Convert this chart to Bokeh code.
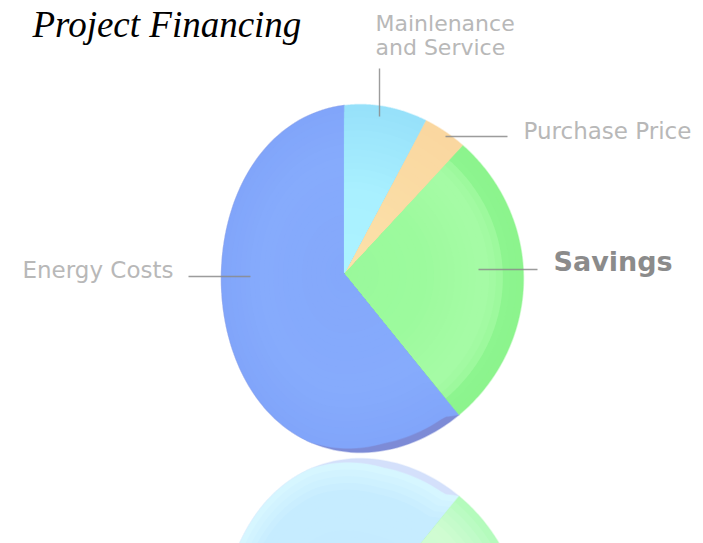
import numpy as np
from bokeh.plotting import figure
from bokeh.core.properties import value
from bokeh.embed import file_html
from bokeh.resources import INLINE

# data: share of the pie, clockwise from 12 o'clock
categories = ["Maintenance and Service", "Purchase Price", "Savings", "Energy Costs"]
shares = [7.8, 4.1, 27.3, 60.8]

title_text = "Project Financing"
label_rows = [
    ["Mainlenance", "and Service"],
    ["Purchase Price"],
    ["Savings"],
    ["Energy Costs"],
]

APEX = (344.0, 272.0)
CX, CY, RX, RY, BEND = 372.0, 278.0, 151.0, 174.0, 12.0
MIRROR = 455.0

# the pie's egg-shaped outline, expressed as distance from the apex per clockwise angle
_u = np.linspace(0, 2 * np.pi, 2000)
_rx = CX + RX * np.sin(_u) - BEND * np.cos(_u) ** 2 - APEX[0]
_ry = CY - RY * np.cos(_u) - APEX[1]
_th = np.degrees(np.arctan2(_rx, -_ry)) % 360
_order = np.argsort(_th)
_th, _r = _th[_order], np.hypot(_rx, _ry)[_order]

def sector(a0, a1, scale=1.0, mirror=False):
    th = np.linspace(a0, a1, 120)
    s = scale(th) if callable(scale) else scale
    r = np.interp(th % 360, _th, _r)
    t = np.radians(th)
    xs = np.r_[APEX[0], APEX[0] + r * s * np.sin(t)]
    ys = np.r_[APEX[1], APEX[1] - r * s * np.cos(t)]
    if mirror:
        ys = 2 * MIRROR - ys
    return xs.tolist(), ys.tolist()

edges = np.r_[0, np.cumsum(shares)] * 3.6
m0, m1 = edges[0], edges[1]
q0, q1 = edges[1], edges[2]
s0, s1 = edges[2], edges[3]
e0, e1 = edges[3], edges[4]

p = figure(width=703, height=543, x_range=(0, 703), y_range=(543, 0),
           output_backend="svg", toolbar_location=None, min_border=0,
           background_fill_color="white", border_fill_color="white")
p.axis.visible = False
p.grid.visible = False
p.outline_line_color = None

def hex2rgb(h):
    return np.array([int(h[i:i + 2], 16) for i in (1, 3, 5)], float)

def ramp(stops, s):
    """Colour for radial position s from (position, colour) stops sorted by position."""
    pos = [a for a, _ in stops]
    rgb = np.array([hex2rgb(c) for _, c in stops])
    out = [np.interp(s, pos, rgb[:, i]) for i in range(3)]
    return "#%02x%02x%02x" % tuple(int(round(v)) for v in out)

def draw(a0, a1, stops, outer=1.0, mirror=False, steps=26):
    """Stack of shrinking sectors, giving a soft radial gradient."""
    for k in range(steps):
        f = 1 - k / steps
        color = ramp(stops, f)
        if callable(outer):
            sc = (lambda g: (lambda th: outer(th) * g))(f)
        else:
            sc = outer * f
        x, y = sector(a0, a1, sc, mirror)
        p.patch(x, y, fill_color=color, line_color=color,
                line_width=1.5 if k == 0 else 0, line_alpha=0.4 if k == 0 else 0)

def energy_scale(th):
    rise = np.clip((th - e0) / 4.0, 0, 1)
    fall = np.clip((e0 + 50 - th) / 24.0, 0, 1)
    return 1 - 0.04 * rise * fall

# reflection
x, y = sector(e0, e1, 1.0, True)
p.patch(x, y, fill_color="#d4e0fb", line_color="#d4e0fb", line_width=1.5, line_alpha=0.4)
draw(e0, e1, [(0, "#c4eaff"), (0.85, "#c6ecff"), (1, "#d6f6ff")], energy_scale, True)
draw(s0, s1, [(0, "#c8fcd0"), (0.8, "#d0fcd2"), (0.92, "#c0fbc8"), (1, "#b4fbbc")], 1.0, True)

# pie
x, y = sector(e0, e1, 1.0)
p.patch(x, y, fill_color="#7d8bd6", line_color="#7d8bd6", line_width=1.5, line_alpha=0.4)
draw(e0, e1, [(0, "#84a8fb"), (0.7, "#86abfc"), (1, "#81a5fa")], energy_scale)
draw(s0, s1, [(0, "#99f99b"), (0.45, "#9cfa9d"), (0.8, "#a6fba6"), (0.88, "#9ff99f"), (0.92, "#8df58f"), (1, "#8cf48d")])
draw(q0, q1, [(0, "#fbe2aa"), (1, "#fad7a0")])
draw(m0, m1, [(0, "#acf3ff"), (0.5, "#a9f0ff"), (1, "#97e1fa")])

# leaders
lead_x = [[379, 379], [445, 507], [478, 537], [188, 250]]
lead_y = [[68, 116], [136, 136], [269, 269], [276, 276]]
p.multi_line(lead_x, lead_y, line_color="#8b8b8b", line_width=1.4, line_alpha=0.85)

def label(x, y, txt, size, color, style="normal"):
    p.text([x], [y], text=[txt], text_font=value("DejaVu Sans"), text_font_size=size,
           text_color=color, text_font_style=style, text_baseline="middle", text_align="left")

label(375, 23, label_rows[0][0], "22px", "#b8b8b8")
label(375, 47, label_rows[0][1], "22px", "#b8b8b8")
label(523, 130, label_rows[1][0], "23px", "#b8b8b8")
label(553, 261, label_rows[2][0], "27px", "#8b8b8b", "bold")
label(22, 269, label_rows[3][0], "23px", "#b8b8b8")

p.text([32], [24], text=[title_text], text_font=value("Liberation Serif"), text_font_size="37px",
       text_font_style="italic", text_color="#000000", text_baseline="middle", text_align="left")

open("out.html", "w").write(file_html(p, INLINE))
